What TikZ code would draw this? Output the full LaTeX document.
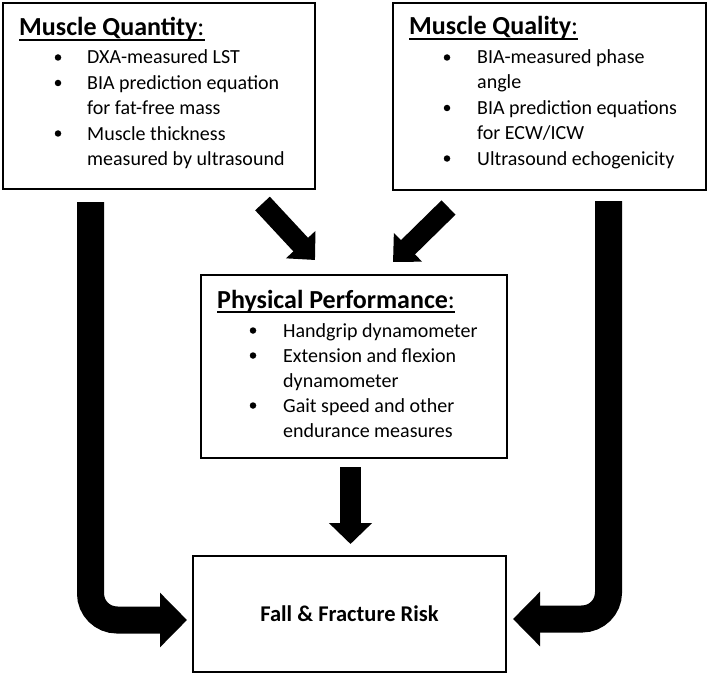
\documentclass[tikz,border=0pt]{standalone}
\usepackage{fontspec}
\setmainfont{Carlito}
\usetikzlibrary{arrows.meta,calc}
\begin{document}
\begin{tikzpicture}[x=1pt,y=-1pt,
  box/.style={draw, line width=2.5pt, inner sep=0pt},
  ttl/.style={anchor=base west, inner sep=0pt, font=\fontsize{26}{30}\selectfont},
  itm/.style={anchor=base west, inner sep=0pt, font=\fontsize{20}{25}\selectfont},
  bul/.style={fill, circle, inner sep=0pt, minimum size=6.5pt},
  uline/.style={line width=1.5pt},
  fatbent/.style={line width=27pt, rounded corners=26.5pt, -{Triangle[length=27pt,width=53pt]}},
  fatdiag/.style={line width=20pt, -{Triangle[length=21pt,width=39pt]}},
  fatvert/.style={line width=21pt, -{Triangle[length=21pt,width=42pt]}}
]
\useasboundingbox (0,0) rectangle (709,674);

% boxes
\node[box, minimum width=312pt, minimum height=186pt] (b1) at (159,96) {};
\node[box, minimum width=313pt, minimum height=187pt] (b2) at (549.5,96.5) {};
\node[box, minimum width=306pt, minimum height=183pt] (b3) at (354,366.5) {};
\node[box, minimum width=313pt, minimum height=116pt] (b4) at (349.5,614)
  {\fontsize{22.5}{27}\selectfont\bfseries Fall \& Fracture Risk};

% Muscle Quantity
\node[ttl] (t1) at (19,36) {\textbf{Muscle Quantity}:};
\draw[uline] ($(t1.base west)+(0,4)$) -- ($(t1.base east)+(0,4)$);
\node[bul] (q1b) at (58,57.5) {};
\node[itm] (q1) at (87,64) {DXA-measured LST};
\node[bul] (q2b) at (58,83) {};
\node[itm] (q2) at (87,89.5) {BIA prediction equation};
\node[itm] (q2c) at (87,114.5) {for fat-free mass};
\node[bul] (q3b) at (58,133.5) {};
\node[itm] (q3) at (87,140) {Muscle thickness};
\node[itm] (q3c) at (87,165) {measured by ultrasound};

% Muscle Quality
\node[ttl] (t2) at (409,35) {\textbf{Muscle Quality}:};
\draw[uline] ($(t2.base west)+(0,4)$) -- ($(t2.base east)+(0,4)$);
\node[bul] (l1b) at (447,57.5) {};
\node[itm] (l1) at (477,64) {BIA-measured phase};
\node[itm] (l1c) at (477,89) {angle};
\node[bul] (l2b) at (447,108) {};
\node[itm] (l2) at (477,114.5) {BIA prediction equations};
\node[itm] (l2c) at (477,139.5) {for ECW/ICW};
\node[bul] (l3b) at (447,158.5) {};
\node[itm] (l3) at (477,165) {Ultrasound echogenicity};

% Physical Performance
\node[ttl] (t3) at (217,308) {\textbf{Physical Performance}:};
\draw[uline] ($(t3.base west)+(0,4)$) -- ($(t3.base east)+(0,4)$);
\node[bul] (p1b) at (253,330.5) {};
\node[itm] (p1) at (283,337) {Handgrip dynamometer};
\node[bul] (p2b) at (253,355.5) {};
\node[itm] (p2) at (283,362) {Extension and flexion};
\node[itm] (p2c) at (283,387) {dynamometer};
\node[bul] (p3b) at (253,405.5) {};
\node[itm] (p3) at (283,412) {Gait speed and other};
\node[itm] (p3c) at (283,437.5) {endurance measures};

% arrow end points
\coordinate (qa) at (262.5,203.5);
\coordinate (qb) at (315,260);
\coordinate (la) at (448.5,207.5);
\coordinate (lb) at (393,262);
\coordinate (pa) at (350.5,467);
\coordinate (pb) at (350.5,544);
\coordinate (lqa) at (90.5,202);
\coordinate (lqb) at (187,620);
\coordinate (rla) at (608.5,201);
\coordinate (rlb) at (513,619);

\draw[fatdiag] (qa) -- (qb);
\draw[fatdiag] (la) -- (lb);
\draw[fatvert] (pa) -- (pb);
\draw[fatbent] (lqa) |- (lqb);
\draw[fatbent] (rla) |- (rlb);
\end{tikzpicture}
\end{document}
